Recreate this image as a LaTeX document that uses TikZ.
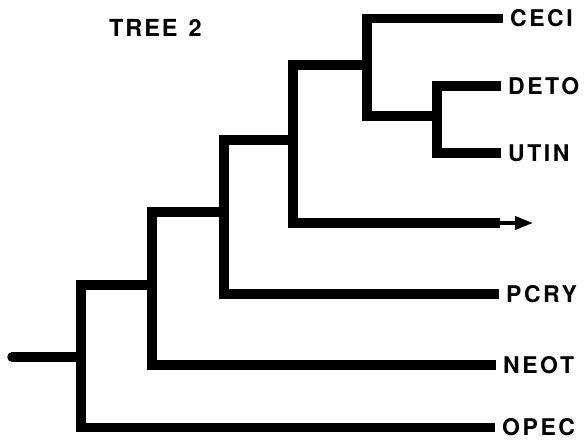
\documentclass[tikz,border=0pt]{standalone}
\usepackage{fontspec}
\setmainfont{TeX Gyre Heros}
\newfontfamily\labfont[LetterSpace=11]{TeX Gyre Heros}
\newfontfamily\titlefont[LetterSpace=8]{TeX Gyre Heros}
\usetikzlibrary{arrows.meta}
\tikzset{
  branch/.style={line width=9.5bp, line join=miter, line cap=butt},
  lab/.style={anchor=west, inner xsep=7bp, inner ysep=0pt, font={\fontsize{23bp}{25bp}\selectfont\labfont\bfseries}},
  titlestyle/.style={anchor=west, inner sep=0pt, font={\fontsize{23.5bp}{26bp}\selectfont\titlefont\bfseries}},
}
\begin{document}
\begin{tikzpicture}[x=1bp,y=-1bp]
\useasboundingbox (0,0) rectangle (587,447);
\node[titlestyle] (title) at (109,27.5) {TREE\hspace{11bp}2};
% tip labels
\node[lab] (CECI) at (503,18.5) {CECI};
\node[lab] (DETO) at (501,86) {DETO};
\node[lab] (UTIN) at (501,153) {UTIN};
\node[lab] (PCRY) at (499,294) {PCRY};
\node[lab] (NEOT) at (496,365) {NEOT};
\node[lab] (OPEC) at (495,427.5) {OPEC};
% internal junctions
\coordinate (root) at (12,357);
\coordinate (c1) at (81,357);
\coordinate (c2) at (152,285);
\coordinate (c3) at (224,212);
\coordinate (c4) at (293,140);
\coordinate (c5) at (367,65);
\coordinate (c6) at (437,116);
\coordinate (arrowmid) at (500,223);
\coordinate (arrowend) at (533,223);
% branches
\draw[branch, line cap=round] (c1) -- (root);
\draw[branch] (c2) -| (c1) |- (OPEC.west);
\draw[branch] (c3) -| (c2) |- (NEOT.west);
\draw[branch] (c4) -| (c3) |- (PCRY.west);
\draw[branch] (c5) -| (c4) |- (arrowmid);
\draw[line width=4bp, -{Triangle[length=18bp,width=13bp]}] (arrowmid) -- (arrowend);
\draw[branch] (CECI.west) -| (c5) |- (c6);
\draw[branch] (DETO.west) -| (c6) |- (UTIN.west);
\end{tikzpicture}
\end{document}
